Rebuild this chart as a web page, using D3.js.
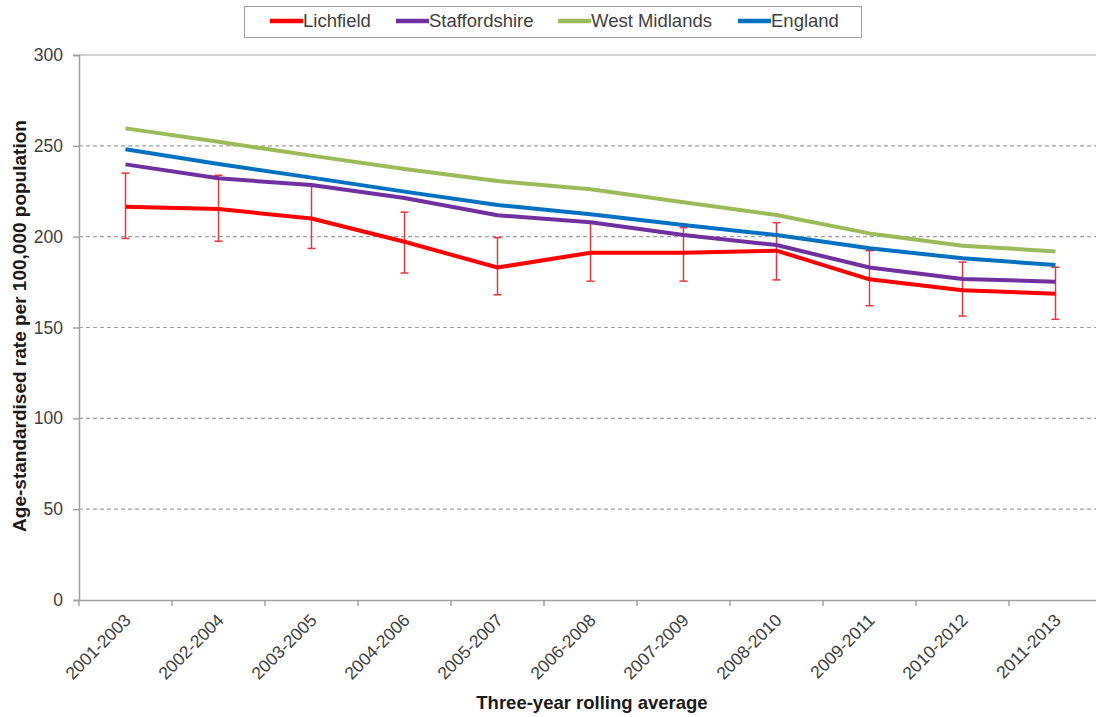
<!DOCTYPE html>
<html>
<head>
<meta charset="utf-8">
<script src="https://cdn.jsdelivr.net/npm/d3@7"></script>
<style>
  body { margin: 0; background: #fff; }
  text { font-family: Arial, "Liberation Sans", sans-serif; }
</style>
</head>
<body>
<div id="chart"></div>
<script>
// categories and series
var periods = ["2001-2003", "2002-2004", "2003-2005", "2004-2006", "2005-2007", "2006-2008",
  "2007-2009", "2008-2010", "2009-2011", "2010-2012", "2011-2013"];
var lichfield = [216.5, 215.2, 210, 197.2, 183, 191.2, 191.2, 192.3, 176.5, 170.5, 168.6];
var lichfieldLow = [199, 197.5, 193.5, 180, 168, 175.5, 175.5, 176.2, 162, 156.3, 154.5];
var lichfieldHigh = [235, 233.8, 228.4, 213.5, 199.5, 207.7, 205, 207.7, 192.3, 186, 183.2];
var staffordshire = [239.8, 232.1, 228.4, 221.3, 211.8, 207.9, 200.9, 195.4, 183, 176.7, 175.2];
var westMidlands = [259.6, 252.2, 244.6, 237.2, 230.6, 226.1, 218.9, 211.9, 201.8, 195, 191.9];
var england = [248.1, 240, 232.5, 224.8, 217.4, 212.3, 206.4, 200.9, 193.6, 188.1, 184.4];
var yTicks = [0, 50, 100, 150, 200, 250, 300];

var seriesNames = ["Lichfield", "Staffordshire", "West Midlands", "England"];
var seriesColors = ["#ff0000", "#7030a0", "#9bbb59", "#0070c0"];
var seriesValues = [lichfield, staffordshire, westMidlands, england];

var svgWidth = 1096;
var svgHeight = 717;
var margin = { top: 55, right: -6, bottom: 117, left: 79 };
var width = svgWidth - margin.left - margin.right;
var height = svgHeight - margin.top - margin.bottom;

var svg = d3.select("#chart")
  .append("svg")
  .attr("width", svgWidth)
  .attr("height", svgHeight);

var chartGroup = svg.append("g")
  .attr("transform", `translate(${margin.left}, ${margin.top})`);

var xScale = d3.scaleBand()
  .domain(periods)
  .range([0, width]);

var yScale = d3.scaleLinear()
  .domain([0, 300])
  .range([height, 0]);

// gridlines
chartGroup.selectAll(".grid")
  .data(yTicks.filter(d => d > 0))
  .enter()
  .append("line")
  .attr("x1", 0)
  .attr("x2", width)
  .attr("y1", d => yScale(d))
  .attr("y2", d => yScale(d))
  .attr("stroke", d => d === 300 ? "#a6a6a6" : "#a0a0a0")
  .attr("stroke-width", 1.2)
  .attr("stroke-dasharray", d => d === 300 ? null : "4,3");

// y axis
var leftAxis = d3.axisLeft(yScale).tickValues(yTicks).tickSize(6).tickPadding(10);
var yAxisG = chartGroup.append("g").call(leftAxis);
yAxisG.select(".domain").attr("stroke", "#a0a0a0").attr("stroke-width", 1.5);
yAxisG.selectAll(".tick line").attr("stroke", "#a0a0a0").attr("stroke-width", 1.5);
yAxisG.selectAll(".tick text")
  .attr("font-size", "17.5px")
  .attr("fill", "#404040")
  .attr("font-family", "Arial, 'Liberation Sans', sans-serif");

// x axis: ticks at category boundaries
var bottomAxis = d3.axisBottom(xScale).tickSize(0).tickFormat("");
var xAxisG = chartGroup.append("g")
  .attr("transform", `translate(0, ${height})`)
  .call(bottomAxis);
xAxisG.select(".domain").attr("stroke", "#a0a0a0").attr("stroke-width", 1.5);

xAxisG.selectAll(".boundary")
  .data(periods)
  .enter()
  .append("line")
  .attr("x1", d => xScale(d))
  .attr("x2", d => xScale(d))
  .attr("y1", 0)
  .attr("y2", 6)
  .attr("stroke", "#a0a0a0")
  .attr("stroke-width", 1.5);

xAxisG.selectAll(".lbl")
  .data(periods)
  .enter()
  .append("text")
  .attr("transform", d => `translate(${xScale(d) + xScale.bandwidth() / 2 + 2}, 17) rotate(-45)`)
  .attr("text-anchor", "end")
  .attr("dy", "0.35em")
  .attr("font-size", "17.5px")
  .attr("fill", "#404040")
  .text(d => d);

var cx = d => xScale(d) + xScale.bandwidth() / 2;

// error bars for Lichfield
var errGroup = chartGroup.append("g");
periods.forEach(function(p, i) {
  var x = cx(p);
  errGroup.append("line")
    .attr("x1", x).attr("x2", x)
    .attr("y1", yScale(lichfieldLow[i])).attr("y2", yScale(lichfieldHigh[i]))
    .attr("stroke", "#e8363c").attr("stroke-width", 1.5);
  [lichfieldLow[i], lichfieldHigh[i]].forEach(function(v) {
    errGroup.append("line")
      .attr("x1", x - 4).attr("x2", x + 4)
      .attr("y1", yScale(v)).attr("y2", yScale(v))
      .attr("stroke", "#e8363c").attr("stroke-width", 1.5);
  });
});

// lines (drawn so that Lichfield is on top)
var line = d3.line()
  .x((d, i) => cx(periods[i]))
  .y(d => yScale(d));

[2, 3, 1, 0].forEach(function(k) {
  chartGroup.append("path")
    .datum(seriesValues[k])
    .attr("d", line)
    .attr("fill", "none")
    .attr("stroke", seriesColors[k])
    .attr("stroke-width", 4)
    .attr("stroke-linejoin", "round");
});

// axis titles
svg.append("text")
  .attr("transform", `translate(26, 326) rotate(-90)`)
  .attr("text-anchor", "middle")
  .attr("font-size", "19px")
  .attr("font-weight", "bold")
  .attr("fill", "#1a1a1a")
  .text("Age-standardised rate per 100,000 population");

svg.append("text")
  .attr("x", 592)
  .attr("y", 709)
  .attr("text-anchor", "middle")
  .attr("font-size", "18.5px")
  .attr("font-weight", "bold")
  .attr("fill", "#1a1a1a")
  .text("Three-year rolling average");

// legend
var legend = svg.append("g");
legend.append("rect")
  .attr("x", 244.5).attr("y", 6.5)
  .attr("width", 617).attr("height", 31)
  .attr("fill", "#fff")
  .attr("stroke", "#a0a0a0")
  .attr("stroke-width", 1);

var legendX = [270, 396, 558, 738];
seriesNames.forEach(function(name, i) {
  legend.append("line")
    .attr("x1", legendX[i]).attr("x2", legendX[i] + 33)
    .attr("y1", 21).attr("y2", 21)
    .attr("stroke", seriesColors[i])
    .attr("stroke-width", 4.5);
  legend.append("text")
    .attr("x", legendX[i] + 33)
    .attr("y", 21)
    .attr("dy", "0.35em")
    .attr("font-size", "18.5px")
    .attr("fill", "#404040")
    .text(name);
});
</script>
</body>
</html>
